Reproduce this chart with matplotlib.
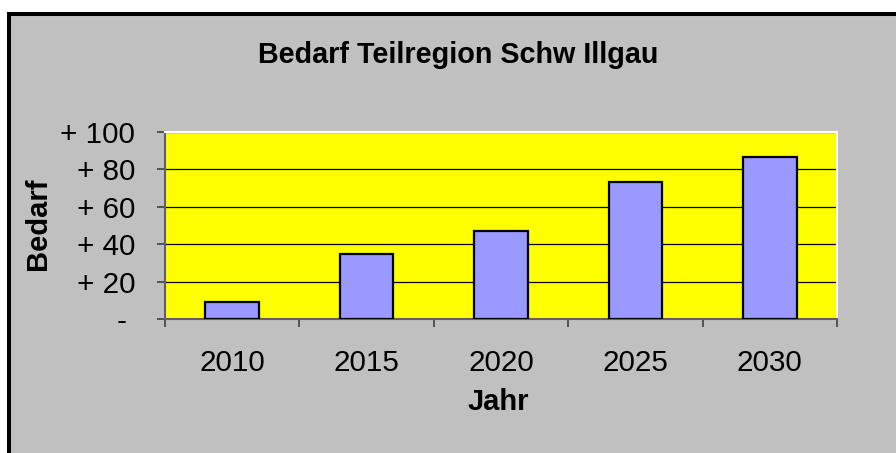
import matplotlib
matplotlib.use("Agg")
import matplotlib.pyplot as plt
from matplotlib.patches import Rectangle
from matplotlib.transforms import ScaledTranslation

plt.rcParams["font.family"] = ["Liberation Sans", "DejaVu Sans"]

years = ["2010", "2015", "2020", "2025", "2030"]
bedarf = [9, 35, 47, 73, 86.5]
yticks = [0, 20, 40, 60, 80, 100]
ylabels = ["-", "+ 20", "+ 40", "+ 60", "+ 80", "+ 100"]

W, H = 896, 453
fig = plt.figure(figsize=(W / 100, H / 100), dpi=100, facecolor="white")

# grey chart area with black frame (runs off the right/bottom edge)
fig.patches.append(Rectangle((9 / W, -0.2), 1.2, 1 - 14 / H + 0.2,
                             transform=fig.transFigure, facecolor="#C0C0C0",
                             edgecolor="black", linewidth=2.9, zorder=-5))

ax = fig.add_axes([165 / W, 1 - 319 / H, (837 - 165) / W, (319 - 132) / H])
ax.set_facecolor("#FFFF00")

x = list(range(len(years)))
ax.bar(x, bedarf, width=0.4, color="#9999FF", edgecolor="black",
       linewidth=1.6, zorder=3)

ax.set_xlim(-0.5, len(years) - 0.5)
ax.set_ylim(0, 100)

ax.yaxis.grid(True, color="black", linewidth=0.9, zorder=1)
ax.set_axisbelow(True)

for s in ("top", "right"):
    ax.spines[s].set_color("white")
    ax.spines[s].set_linewidth(1.5)
for s in ("left", "bottom"):
    ax.spines[s].set_color("#606060")
    ax.spines[s].set_linewidth(1.5)

# y axis
ax.set_yticks(yticks)
ax.set_yticklabels(ylabels, fontsize=21.3)
ax.tick_params(axis="y", direction="out", length=5.8, width=1.2,
               color="#404040", pad=15.8)
zero_lab = ax.get_yticklabels()[0]
zero_lab.set_transform(zero_lab.get_transform()
                       + ScaledTranslation(-8 / 100, 0, fig.dpi_scale_trans))

# x axis: ticks on category borders, labels in the middle
ax.set_xticks([i - 0.5 for i in range(len(years) + 1)])
ax.set_xticklabels([])
ax.tick_params(axis="x", which="major", direction="out", length=6,
               width=1.2, color="#404040")
ax.set_xticks(x, minor=True)
ax.set_xticklabels(years, minor=True, fontsize=21.3)
ax.tick_params(axis="x", which="minor", length=0, pad=21.3)

ax.set_xlabel("Jahr", fontsize=21, fontweight="bold", va="baseline")
ax.xaxis.set_label_coords((498 - 165) / 672, (319 - 410) / 187)
ax.set_ylabel("Bedarf", fontsize=21, fontweight="bold", va="center")
ax.yaxis.set_label_coords((37.5 - 165) / 672, (319 - 224) / 187)

fig.text(458 / W, 1 - 63 / H, "Bedarf Teilregion Schw Illgau",
         fontsize=20.7, fontweight="bold", ha="center", va="baseline")

fig.savefig("out.png", dpi=100, facecolor="white")
